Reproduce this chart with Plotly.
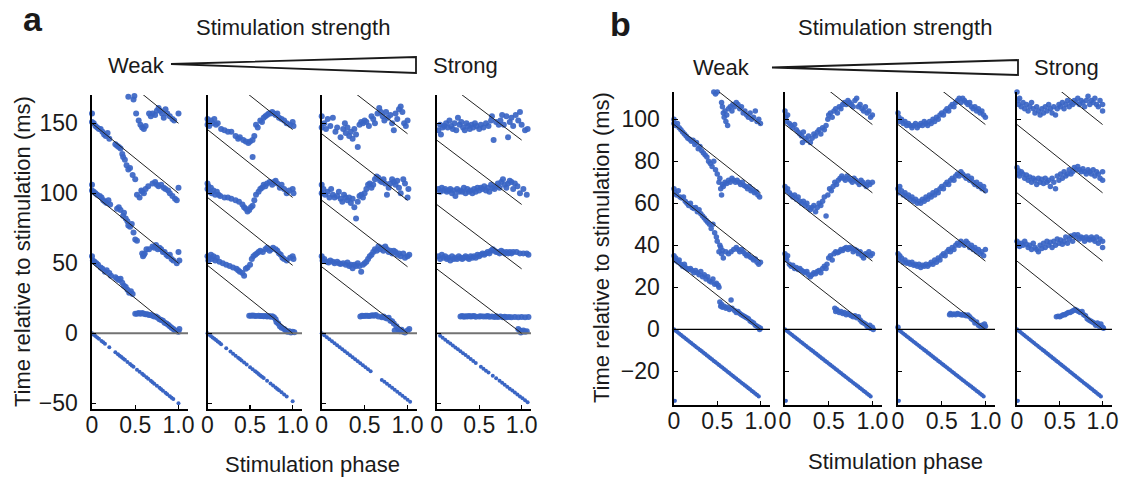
import plotly.graph_objects as go

W, H = 1127, 479
FONT = "Liberation Sans, Arial, Helvetica, sans-serif"
BLUE = "rgb(58,101,196)"

# ---------------- data ----------------
PANEL_A_PERIODS = [50, 48.5, 47.5, 46]
PANEL_B_PERIODS = [32.5, 32.5, 32.5, 32.5]
Y_TICKS_A = [-50, 0, 50, 100, 150]
Y_TICKS_B = [-20, 0, 20, 40, 60, 80, 100]
X_TICKS = [0, 0.5, 1.0]
X_TICK_LABELS = ["0", "0.5", "1.0"]

A1_PTS = [
    (0.00,55),(0.01,52),(0.03,51),(0.05,50),(0.07,49),(0.10,47),(0.12,46),(0.15,44),(0.17,45),(0.20,43),(0.22,41),
    (0.27,40),(0.29,39),(0.31,38),(0.33,39),(0.35,36),(0.37,34),(0.39,33),(0.41,31),(0.43,29),(0.45,30),(0.47,28),
    (0.50,14),(0.52,14),(0.54,14.5),(0.56,14),(0.58,14.5),(0.60,14),(0.62,13.5),(0.64,13.5),(0.66,13),(0.68,13),
    (0.70,12.5),(0.72,12),(0.74,12),(0.76,11),(0.78,10),(0.80,9.5),(0.82,9),(0.84,7.5),(0.86,7),(0.88,6),(0.90,5),
    (0.92,4),(0.94,3),(0.96,2),(0.98,1.5),(1.00,1),(1.01,3),
    (0.00,106),(0.00,102),(0.02,101),(0.04,100),(0.06,99),(0.09,98),(0.11,97),(0.13,95),(0.15,94),(0.17,93),(0.19,95),
    (0.21,92),(0.29,89),(0.31,90),(0.33,88),(0.36,84),(0.37,86),(0.39,82),(0.41,80),(0.42,77),(0.44,76),(0.46,78),
    (0.48,72),(0.50,67),(0.52,66),(0.58,57),(0.59,55),(0.60,56),(0.61,57),(0.63,60),(0.66,60),(0.70,62),(0.72,61),
    (0.74,63),(0.76,60),(0.78,61),(0.80,60),(0.82,58),(0.84,58),(0.86,56),(0.88,55),(0.90,56),(0.92,53),(0.94,52),
    (0.98,50),(1.00,58),(1.01,52),
    (0.00,157),(0.00,151),(0.02,150),(0.04,148),(0.06,147),(0.08,146),(0.10,146),(0.12,144),(0.14,142),(0.16,141),
    (0.18,143),(0.20,139),(0.27,135),(0.29,134),(0.31,133),(0.33,132),(0.35,128),(0.36,126),(0.38,124),(0.40,120),
    (0.42,117),(0.44,118),(0.47,113),(0.50,110),(0.52,99),(0.55,97),(0.57,102),(0.58,101),(0.60,100),(0.62,103),
    (0.65,105),(0.70,107),(0.73,108),(0.75,106),(0.77,105),(0.80,106),(0.83,104),(0.85,103),(0.88,102),(0.90,100),
    (0.93,98),(0.96,96),(0.98,95),(1.00,104),
    (0.42,169),(0.48,167),(0.49,169.5),(0.51,157),(0.54,152),(0.56,149),(0.58,147),(0.60,146),(0.62,148),(0.66,157),
    (0.68,155),(0.70,157),(0.73,156),(0.75,159),(0.77,161),(0.79,159),(0.81,157),(0.83,154),(0.85,160),(0.87,157),
    (0.90,155),(0.93,153),(0.95,152),(1.00,157),
]
A2_PTS = [
    (0.49,12.5),(0.51,12.5),(0.53,12.7),(0.55,12.5),(0.57,12.4),(0.60,12.6),(0.62,12.3),(0.64,12.4),(0.66,12.2),
    (0.68,12.3),(0.70,12.0),(0.72,12.4),(0.74,11.8),(0.76,12.2),(0.78,11.5),(0.80,10),(0.81,8),(0.83,7),(0.85,5),
    (0.87,4),(0.90,3),(0.92,2),(0.94,1),(0.96,1.5),(0.98,0.5),(1.00,1),(1.02,0.7),
    (0.00,55),(0.01,52),(0.02,54),(0.04,56),(0.05,53),(0.07,55),(0.09,52),(0.11,54),(0.14,51),(0.18,50),(0.22,49),
    (0.26,48),(0.30,47),(0.34,46),(0.36,45),(0.38,44),(0.41,43),(0.43,41),(0.45,46),(0.47,47),(0.50,49),(0.52,53),
    (0.54,55),(0.56,56),(0.58,57),(0.60,58),(0.62,59),(0.65,58),(0.68,60),(0.70,61),(0.73,59),(0.75,60),(0.77,61),
    (0.80,60),(0.82,59),(0.84,57),(0.86,56),(0.88,54),(0.90,53),(0.93,52),(0.97,54),(1.00,55),(1.01,53),
    (0.00,107),(0.00,103),(0.01,105),(0.02,101),(0.04,104),(0.05,100),(0.07,102),(0.09,99),(0.11,101),(0.13,99),
    (0.15,98),(0.20,97),(0.24,97),(0.28,96),(0.33,95),(0.37,94),(0.41,92),(0.43,90),(0.45,89),(0.47,87),(0.49,88),
    (0.51,90),(0.53,91),(0.55,95),(0.57,99),(0.60,101),(0.62,103),(0.64,104),(0.66,106),(0.68,105),(0.70,107),
    (0.73,108),(0.76,106),(0.78,108),(0.80,109),(0.82,107),(0.85,104),(0.87,106),(0.90,103),(0.93,100),(0.96,102),
    (1.00,103),(1.01,100),(0.53,126),
    (0.00,153),(0.00,149),(0.01,151),(0.02,148),(0.04,152),(0.06,150),(0.08,153),(0.10,149),(0.12,150),(0.16,146),
    (0.20,145),(0.24,144),(0.28,144),(0.33,141),(0.36,139),(0.38,140),(0.42,138),(0.45,137),(0.48,136),(0.50,137),
    (0.53,138),(0.55,141),(0.57,149),(0.59,147),(0.62,152),(0.64,151),(0.66,154),(0.68,155),(0.70,156),(0.72,157),
    (0.74,157),(0.76,158),(0.78,157),(0.80,156),(0.82,157),(0.84,154),(0.87,153),(0.90,152),(0.93,150),(0.97,149),
    (1.00,151),(1.01,148),
]
A3_PTS = [
    (0.45,12),(0.47,12.5),(0.49,12.3),(0.51,12.5),(0.53,12.6),(0.55,12.4),(0.57,12.5),(0.59,12.8),(0.61,12.6),
    (0.63,13),(0.66,12),(0.70,11.5),(0.72,12),(0.74,11),(0.76,10.5),(0.78,11),(0.80,9),(0.82,8.5),(0.84,7),
    (0.85,2),(0.87,5),(0.89,3),(0.91,1.5),(0.93,2.5),(0.95,1),(0.97,0.5),(1.00,2),(1.02,3),
    (0.00,55),(0.01,52),(0.03,53),(0.06,51),(0.08,50.5),(0.10,52),(0.13,51),(0.15,50),(0.18,51),(0.20,50),(0.22,49.5),
    (0.25,50),(0.28,49),(0.30,50.5),(0.32,48),(0.34,49),(0.36,46.5),(0.38,49),(0.40,48),(0.42,50),(0.44,48),(0.46,44),
    (0.48,49),(0.50,50),(0.52,51),(0.54,53),(0.56,55),(0.58,56),(0.60,58),(0.62,60),(0.64,59),(0.66,62),(0.68,60),
    (0.70,61),(0.72,59),(0.74,62),(0.76,60),(0.78,58),(0.80,59),(0.82,57),(0.84,59),(0.86,58),(0.88,56),(0.90,57),
    (0.92,55),(0.95,57),(0.97,54),(1.00,55),(1.02,56),
    (0.00,106),(0.00,100),(0.02,103),(0.04,99),(0.07,101),(0.09,97),(0.11,103),(0.13,99),(0.15,97),(0.18,98),(0.20,101),
    (0.22,96),(0.24,94),(0.26,99),(0.28,97),(0.30,95),(0.32,97),(0.34,93),(0.36,96),(0.38,90),(0.40,82),(0.42,94),
    (0.44,98),(0.46,99),(0.48,97),(0.50,100),(0.52,103),(0.54,106),(0.56,107),(0.58,104),(0.60,106),(0.62,110),
    (0.64,112),(0.66,111),(0.68,109),(0.70,108),(0.72,110),(0.74,107),(0.76,99),(0.78,104),(0.80,107),(0.82,110),
    (0.84,108),(0.86,106),(0.88,109),(0.90,104),(0.92,100),(0.95,110),(0.97,107),(1.00,97),(1.01,103),
    (0.00,155),(0.00,147),(0.03,150),(0.05,146),(0.07,153),(0.10,148),(0.13,154),(0.16,144),(0.18,147),(0.22,140),
    (0.25,146),(0.27,150),(0.28,143),(0.30,147),(0.32,141),(0.34,144),(0.36,139),(0.38,146),(0.40,142),(0.42,133),
    (0.44,149),(0.46,151),(0.48,150),(0.50,152),(0.52,151),(0.55,148),(0.58,155),(0.60,153),(0.62,150),(0.65,157),
    (0.67,161),(0.69,158),(0.71,155),(0.73,152),(0.75,158),(0.77,154),(0.80,156),(0.82,150),(0.84,145),(0.86,157),
    (0.88,153),(0.90,160),(0.92,162),(0.94,158),(0.96,150),(0.98,148),(1.00,152),
]
A4_PTS = [
    (0.28,12),(0.30,12.3),(0.32,11.8),(0.34,12.2),(0.36,12),(0.38,12.4),(0.40,11.9),(0.42,12.1),(0.44,12.3),(0.46,11.8),
    (0.50,12),(0.52,12.2),(0.55,11.9),(0.58,12),(0.60,12.3),(0.62,11.8),(0.65,12),(0.68,11.7),(0.70,12.1),(0.72,11.6),
    (0.75,11.9),(0.78,11.5),(0.80,11.8),(0.82,11.4),(0.85,11.7),(0.88,11.5),(0.92,11.6),(0.96,11.4),(1.00,11.6),
    (1.04,11.5),(1.08,11.7),(0.96,3),(0.98,2),(1.00,1),(1.02,2),(1.04,1),(0.99,0.5),(1.06,1.5),
    (0.02,55),(0.04,53),(0.06,56),(0.08,54),(0.10,55),(0.12,53),(0.14,54),(0.16,52),(0.18,55),(0.20,53),(0.22,54),
    (0.24,53),(0.26,55),(0.28,54),(0.30,53),(0.32,54),(0.34,55),(0.36,54),(0.38,53),(0.40,55),(0.42,54),(0.44,55),
    (0.46,54),(0.48,56),(0.50,55),(0.52,56),(0.54,57),(0.56,56),(0.58,57),(0.60,58),(0.62,57),(0.64,59),(0.66,60),
    (0.68,59),(0.70,58),(0.72,58),(0.74,57),(0.76,59),(0.78,58),(0.80,57),(0.82,58),(0.84,57),(0.86,58),(0.88,57),
    (0.90,58),(0.94,58),(0.98,57),(1.02,57),(1.06,57),(1.08,56),
    (0.02,103),(0.04,101),(0.06,104),(0.08,102),(0.10,103),(0.12,101),(0.14,102),(0.16,103),(0.18,100),(0.20,102),
    (0.22,98),(0.24,103),(0.26,101),(0.28,102),(0.30,101),(0.32,104),(0.34,100),(0.36,103),(0.38,101),(0.40,102),
    (0.42,100),(0.44,103),(0.46,101),(0.48,104),(0.50,102),(0.52,104),(0.54,103),(0.56,105),(0.58,102),(0.60,104),
    (0.62,101),(0.64,106),(0.66,104),(0.68,103),(0.70,105),(0.72,107),(0.74,104),(0.76,108),(0.78,110),(0.80,106),
    (0.82,104),(0.84,107),(0.86,109),(0.88,108),(0.90,103),(0.92,107),(0.95,105),(0.98,100),(1.02,103),(1.06,99),
    (0.02,145),(0.04,149),(0.05,142),(0.07,147),(0.09,148),(0.11,150),(0.13,147),(0.15,152),(0.17,148),(0.19,146),
    (0.21,150),(0.23,145),(0.25,154),(0.27,149),(0.29,151),(0.31,147),(0.33,145),(0.35,150),(0.37,148),(0.39,146),
    (0.41,149),(0.43,147),(0.45,150),(0.47,148),(0.50,146),(0.52,149),(0.55,147),(0.58,150),(0.61,148),(0.64,152),
    (0.65,155),(0.67,138),(0.70,151),(0.73,149),(0.75,152),(0.77,156),(0.79,149),(0.82,155),(0.84,140),(0.86,151),
    (0.88,154),(0.90,148),(0.93,156),(0.96,152),(0.98,158),(1.00,149),(1.04,145),(1.07,146),
]
A1_STIM = [(0.00,0),(0.02,-1),(0.04,-2),(0.06,-3),(0.08,-4),(0.11,-5.5),(0.13,-6.5),(0.15,-7.5),(0.20,-10),(0.27,-13.5),
           (0.30,-15),(0.32,-16),(0.34,-17),(0.36,-18),(0.38,-19),(0.41,-20.5),(0.44,-22),(0.46,-23),(0.48,-24),(0.52,-26),
           (0.55,-27.5),(0.58,-29),(0.60,-30),(0.63,-31.5),(0.65,-32.5),(0.68,-34),(0.70,-35),(0.72,-36),(0.75,-37.5),
           (0.78,-39),(0.80,-40),(0.82,-41),(0.85,-42.5),(0.87,-43.5),(0.90,-45),(0.92,-46),(0.94,-47),(1.00,-50)]
A2_STIM = [(0.00,0),(0.02,-1),(0.04,-2),(0.06,-3),(0.08,-4),(0.10,-4.9),(0.12,-5.8),(0.14,-6.8),(0.16,-7.8),(0.22,-10.7),
           (0.27,-13.1),(0.30,-14.6),(0.33,-16),(0.36,-17.5),(0.38,-18.4),(0.40,-19.4),(0.43,-20.9),(0.46,-22.3),
           (0.50,-24.3),(0.53,-25.7),(0.56,-27.2),(0.58,-28.1),(0.60,-29.1),(0.62,-30.1),(0.64,-31),(0.66,-32),
           (0.70,-34),(0.74,-35.9),(0.77,-37.3),(0.80,-38.8),(0.82,-39.8),(0.84,-40.7),(0.87,-42.2),(0.90,-43.7),
           (0.93,-45.1),(1.00,-48.5)]
A3_STIM = [(0.00,0),(0.03,-1.4),(0.06,-2.9),(0.09,-4.3),(0.12,-5.7),(0.15,-7.1),(0.18,-8.6),(0.21,-10),(0.24,-11.4),
           (0.27,-12.8),(0.30,-14.3),(0.33,-15.7),(0.36,-17.1),(0.39,-18.5),(0.42,-20),(0.45,-21.4),(0.48,-22.8),
           (0.51,-24.2),(0.54,-25.7),(0.57,-27.1),(0.70,-33.3),(0.73,-34.7),(0.76,-36.1),(0.79,-37.5),(0.82,-39),
           (0.85,-40.4),(0.88,-41.8),(0.91,-43.2),(0.94,-44.7),(0.97,-46.1),(1.00,-47.5),(1.03,-48.9)]
A4_STIM = [(0.04,-1.8),(0.07,-3.2),(0.10,-4.6),(0.13,-6),(0.16,-7.4),(0.19,-8.7),(0.22,-10.1),(0.25,-11.5),(0.28,-12.9),
           (0.31,-14.3),(0.34,-15.6),(0.37,-17),(0.40,-18.4),(0.43,-19.8),(0.46,-21.2),(0.52,-23.9),(0.55,-25.3),
           (0.58,-26.7),(0.61,-28.1),(0.66,-30.4),(0.70,-32.2),(0.74,-34),(0.77,-35.4),(0.80,-36.8),(0.83,-38.2),
           (0.86,-39.6),(0.89,-40.9),(0.92,-42.3),(0.95,-43.7),(0.98,-45.1),(1.01,-46.5),(1.04,-47.8),(1.07,-49.2)]

B1_PTS = [
    (0.00,35),(0.01,33),(0.02,34),(0.03,32.5),(0.05,32),(0.06,33),(0.08,31),(0.10,30),(0.12,31),(0.13,29.5),(0.15,29),
    (0.17,28.5),(0.19,29),(0.21,28),(0.23,27),(0.25,28),(0.27,27),(0.29,26),(0.31,27.5),(0.33,25),(0.35,26),(0.37,24),
    (0.39,25),(0.41,23),(0.43,22.5),(0.45,24),(0.47,21.5),(0.49,22),(0.51,21),(0.52,20),(0.53,13),(0.54,11),(0.55,12),
    (0.56,10.5),(0.58,11),(0.60,10),(0.62,10.5),(0.64,9.5),(0.66,14),(0.67,10),(0.70,9),(0.72,8),(0.74,8.5),(0.76,7.5),
    (0.78,7),(0.80,6.5),(0.82,6),(0.84,5.5),(0.86,5),(0.88,4),(0.90,3.5),(0.92,3),(0.94,2),(0.96,1.5),(0.98,1),
    (1.00,0.5),(0.99,0),
    (0.00,67),(0.01,65),(0.03,64),(0.05,66),(0.07,63),(0.09,62.5),(0.11,63),(0.13,61),(0.15,60),(0.17,59),(0.19,60),
    (0.21,58),(0.23,57.5),(0.25,58),(0.27,56),(0.29,57),(0.31,55),(0.33,54),(0.35,53),(0.37,52),(0.39,51),(0.41,50),
    (0.43,48),(0.45,50),(0.47,46),(0.49,44),(0.50,42),(0.52,37),(0.53,40),(0.54,39),(0.55,36),(0.56,37.5),(0.57,34),
    (0.60,37),(0.63,36),(0.66,37),(0.69,38),(0.72,39),(0.74,38),(0.76,37),(0.78,38),(0.80,37),(0.82,36),(0.84,35),
    (0.86,35.5),(0.88,34.5),(0.90,34),(0.92,33),(0.94,33.5),(0.96,32),(0.98,31),(1.00,32),
    (0.00,100),(0.00,98),(0.02,97),(0.04,98),(0.06,96),(0.08,95),(0.10,94),(0.12,93),(0.14,92),(0.16,91),(0.18,90.5),
    (0.20,89.5),(0.22,90),(0.24,88),(0.26,89),(0.28,86),(0.30,87),(0.32,85),(0.34,84),(0.36,83),(0.38,82),(0.40,80),
    (0.42,79),(0.44,77.5),(0.46,80),(0.48,76),(0.50,74),(0.52,70),(0.53,72),(0.54,67),(0.55,64),(0.56,69),(0.57,68),
    (0.59,70),(0.61,69.5),(0.63,71),(0.65,70),(0.67,72),(0.69,71),(0.71,70),(0.73,71),(0.75,70),(0.77,69),(0.79,70),
    (0.81,68.5),(0.83,68),(0.85,67),(0.87,68),(0.89,66),(0.91,66.5),(0.93,65),(0.95,65.5),(0.97,64),(0.99,63),
    (0.46,113),(0.48,112),(0.50,113),(0.55,108),(0.56,106),(0.57,103),(0.58,101),(0.59,104),(0.60,99),(0.61,102),
    (0.62,97),(0.63,105),(0.65,106),(0.67,104),(0.68,107),(0.70,106),(0.72,108),(0.74,107),(0.76,105),(0.78,106),
    (0.80,103),(0.82,104),(0.84,102),(0.86,101),(0.88,103),(0.90,100),(0.92,101),(0.94,104),(0.96,99),(0.98,100),
    (1.00,98),
]
B2_PTS = [
    (0.57,10),(0.58,8.5),(0.59,9.5),(0.60,9),(0.62,8),(0.64,8.5),(0.66,7.5),(0.68,8),(0.70,7),(0.72,7.5),(0.74,7),
    (0.76,6.5),(0.78,6),(0.80,6.5),(0.82,5.5),(0.84,6),(0.86,4.5),(0.88,3.5),(0.90,3),(0.92,2.5),(0.94,1.5),(0.96,1),
    (0.98,0.5),(1.00,1),(1.01,0),(0.97,2),
    (0.00,36),(0.01,34),(0.02,33),(0.03,35),(0.05,31),(0.07,30),(0.09,30.5),(0.11,29),(0.13,29.5),(0.15,28.5),(0.17,29),
    (0.19,28),(0.21,27.5),(0.23,27),(0.25,27.5),(0.27,26),(0.29,25),(0.31,26),(0.33,27),(0.35,26.5),(0.37,27.5),
    (0.39,28),(0.41,27),(0.43,29),(0.45,30),(0.47,29),(0.48,31),(0.50,34),(0.52,35),(0.54,33),(0.56,36),(0.58,37),
    (0.60,36.5),(0.62,37),(0.64,38),(0.66,37.5),(0.68,38.5),(0.70,39),(0.72,38),(0.74,39),(0.76,38.5),(0.78,37),
    (0.80,38),(0.82,37.5),(0.84,36),(0.86,37),(0.88,35),(0.90,34),(0.92,36),(0.94,35.5),(0.96,37),(0.98,35),(1.00,36),
    (0.00,68),(0.01,66),(0.03,67),(0.05,65),(0.07,64),(0.09,63),(0.11,64),(0.13,62),(0.15,63),(0.17,61),(0.19,60),
    (0.21,61),(0.23,59),(0.25,60),(0.27,58),(0.29,57),(0.31,58),(0.33,59),(0.35,56),(0.37,58),(0.39,60),(0.41,59),
    (0.43,61),(0.45,63),(0.47,54),(0.49,64),(0.51,67),(0.53,66),(0.55,68),(0.57,70),(0.59,69),(0.61,71),(0.63,72),
    (0.65,73),(0.67,72),(0.69,71),(0.71,73),(0.73,72),(0.75,71),(0.77,70),(0.79,72),(0.81,71),(0.83,70),(0.85,69),
    (0.87,71),(0.89,70),(0.91,69),(0.93,68),(0.95,70),(0.97,69),(1.00,70),
    (0.00,104),(0.01,101),(0.02,99),(0.03,102),(0.05,98),(0.07,97),(0.09,96),(0.11,97.5),(0.13,95),(0.15,94),(0.17,93),
    (0.19,92),(0.20,89),(0.21,94),(0.23,91),(0.25,90),(0.27,92),(0.29,89),(0.31,91),(0.33,93),(0.35,92),(0.37,94),
    (0.39,95),(0.41,93),(0.43,96),(0.45,95),(0.47,97),(0.49,100),(0.50,102),(0.52,103),(0.54,101),(0.56,104),
    (0.58,105),(0.60,103),(0.62,106),(0.64,105),(0.66,107),(0.68,108),(0.70,107),(0.72,109),(0.74,108),(0.76,107),
    (0.78,106),(0.80,109),(0.82,110),(0.84,106),(0.86,107),(0.88,105),(0.90,104),(0.92,106),(0.94,103),(0.96,104),
    (0.98,101),(1.00,102),
]
B3_PTS = [
    (0.59,7),(0.60,7.5),(0.62,7),(0.64,7.3),(0.66,7),(0.68,7.5),(0.70,7.2),(0.72,7),(0.74,6.8),(0.76,7),(0.78,6.5),
    (0.80,6.8),(0.82,6),(0.84,5),(0.86,4.5),(0.88,3),(0.90,3.5),(0.92,2),(0.94,1.5),(0.96,2),(0.98,1),(1.00,1.5),
    (0.99,2.5),(0.00,1),
    (0.00,36),(0.01,33),(0.02,35),(0.04,34),(0.06,32),(0.08,33),(0.10,31.5),(0.12,32),(0.14,31),(0.16,32),(0.18,30.5),
    (0.20,31),(0.22,30),(0.24,31),(0.26,29.5),(0.28,30.5),(0.30,30),(0.32,31),(0.34,30),(0.36,31),(0.38,32),(0.40,31),
    (0.42,33),(0.44,32),(0.46,34),(0.48,33),(0.50,35),(0.52,36),(0.54,35),(0.56,37),(0.58,38),(0.60,37),(0.62,39),
    (0.64,38),(0.66,40),(0.68,41),(0.70,40),(0.72,42),(0.74,41),(0.76,40),(0.78,42),(0.80,41),(0.82,39),(0.84,40),
    (0.86,38),(0.88,39),(0.90,37),(0.92,38),(0.94,36),(0.96,37),(0.98,35),(1.00,38),
    (0.00,67),(0.01,65),(0.02,68),(0.04,66),(0.06,64),(0.08,65),(0.10,63),(0.12,64),(0.14,62),(0.16,63),(0.18,61),
    (0.20,62),(0.22,60),(0.24,61),(0.26,60),(0.28,62),(0.30,61),(0.32,63),(0.34,62),(0.36,64),(0.38,63),(0.40,65),
    (0.42,64),(0.44,66),(0.46,65),(0.48,67),(0.50,68),(0.52,67),(0.54,69),(0.56,70),(0.58,69),(0.60,71),(0.62,72),
    (0.64,71),(0.66,73),(0.68,74),(0.70,73),(0.72,75),(0.74,74),(0.76,73),(0.78,72),(0.80,73),(0.82,71),(0.84,72),
    (0.86,70),(0.88,69),(0.90,70),(0.92,68),(0.94,69),(0.96,67),(0.98,68),(1.00,66),
    (0.00,103),(0.01,101),(0.02,99),(0.04,100),(0.06,98),(0.08,99),(0.10,97),(0.12,98),(0.14,97),(0.16,96),(0.18,97),
    (0.20,98),(0.22,96),(0.24,97),(0.26,98),(0.28,97),(0.30,99),(0.32,98),(0.34,97),(0.36,99),(0.38,98),(0.40,100),
    (0.42,99),(0.44,101),(0.46,100),(0.48,102),(0.50,103),(0.52,102),(0.54,104),(0.56,105),(0.58,104),(0.60,106),
    (0.62,107),(0.64,106),(0.66,108),(0.68,109),(0.70,110),(0.72,108),(0.74,110),(0.76,109),(0.78,108),(0.80,107),
    (0.82,108),(0.84,106),(0.86,105),(0.88,106),(0.90,104),(0.92,105),(0.94,103),(0.96,104),(0.98,102),(1.00,101),
]
B4_PTS = [
    (0.46,6),(0.48,6.3),(0.50,6),(0.52,6.5),(0.54,7),(0.56,7),(0.58,7.5),(0.60,8),(0.62,8),(0.64,8.5),(0.66,9),
    (0.68,9.5),(0.70,9),(0.72,8.5),(0.74,8),(0.76,8.5),(0.78,7),(0.80,6.5),(0.82,5),(0.84,4.5),(0.86,4),(0.88,3.5),
    (0.90,3),(0.92,2),(0.94,3),(0.96,1.5),(0.98,2.5),(1.00,1),(1.01,0.5),
    (0.00,42),(0.01,40),(0.02,41),(0.03,39.5),(0.05,41),(0.07,40),(0.09,42),(0.11,40.5),(0.13,39),(0.15,40),(0.17,38),
    (0.19,41),(0.21,39),(0.23,38),(0.25,37),(0.27,40),(0.29,38.5),(0.31,41),(0.33,39),(0.35,42),(0.37,40),(0.39,41.5),
    (0.41,39),(0.43,42),(0.45,40),(0.47,43),(0.49,41),(0.51,42.5),(0.53,40.5),(0.55,42),(0.57,44),(0.59,41),(0.61,43),
    (0.63,44.5),(0.65,42),(0.67,45),(0.69,44),(0.71,45),(0.73,43),(0.75,44),(0.77,43.5),(0.79,42),(0.81,44),(0.83,43),
    (0.85,42.5),(0.87,44),(0.89,43),(0.91,42),(0.93,44),(0.95,41),(0.97,43),(1.00,42),(1.00,39),
    (0.00,77),(0.01,74),(0.02,75.5),(0.03,73),(0.05,75),(0.07,74),(0.09,72),(0.11,73.5),(0.13,71),(0.15,72.5),(0.17,70),
    (0.19,72),(0.21,71),(0.23,69),(0.25,72),(0.27,70),(0.29,71.5),(0.31,69.5),(0.33,72),(0.35,70),(0.37,71),(0.39,68),
    (0.41,72),(0.43,70),(0.45,67),(0.47,73),(0.49,71),(0.51,74),(0.53,72),(0.55,75),(0.57,73),(0.59,74),(0.61,76),
    (0.63,74),(0.65,75),(0.67,77),(0.69,76),(0.71,77.5),(0.73,76),(0.75,75),(0.77,76.5),(0.79,75),(0.81,74),(0.83,76),
    (0.85,75),(0.87,74),(0.89,76),(0.91,73),(0.93,75),(0.95,74),(0.97,72),(1.00,75),(1.00,71),
    (0.00,113),(0.01,109),(0.02,107),(0.03,110),(0.05,106),(0.07,108),(0.09,105),(0.11,107),(0.13,104),(0.15,106),
    (0.17,108),(0.19,105),(0.21,103),(0.23,106),(0.25,104),(0.27,102),(0.29,105),(0.31,103),(0.33,106),(0.35,104),
    (0.37,107),(0.39,105),(0.41,103),(0.43,106),(0.45,102),(0.47,105),(0.49,107),(0.51,106),(0.53,108),(0.55,105),
    (0.57,107),(0.59,109),(0.61,106),(0.63,108),(0.65,107),(0.67,109),(0.69,108),(0.71,110),(0.73,107),(0.75,109),
    (0.77,108),(0.79,106),(0.81,109),(0.83,111),(0.85,107),(0.87,109),(0.89,108),(0.91,110),(0.93,107),(0.95,106),
    (0.97,109),(1.00,107),(1.00,104),
]
B_STIM = [(0.00,0),(0.02,-0.7),(0.04,-1.3),(0.06,-2),(0.08,-2.6),(0.10,-3.3),(0.12,-3.9),(0.14,-4.6),(0.16,-5.2),
          (0.18,-5.9),(0.20,-6.5),(0.22,-7.2),(0.24,-7.8),(0.26,-8.5),(0.28,-9.1),(0.30,-9.8),(0.32,-10.4),(0.34,-11.1),
          (0.36,-11.7),(0.38,-12.4),(0.40,-13),(0.42,-13.7),(0.44,-14.3),(0.46,-15),(0.48,-15.6),(0.50,-16.3),
          (0.52,-16.9),(0.54,-17.6),(0.56,-18.2),(0.58,-18.9),(0.60,-19.5),(0.62,-20.2),(0.64,-20.8),(0.66,-21.5),
          (0.68,-22.1),(0.70,-22.8),(0.72,-23.4),(0.74,-24.1),(0.76,-24.7),(0.78,-25.4),(0.80,-26),(0.82,-26.7),
          (0.84,-27.3),(0.86,-28),(0.88,-28.6),(0.90,-29.3),(0.92,-29.9),(0.94,-30.6),(0.96,-31.2),(0.98,-31.9),
          (0.01,-34)]

# ---------------- layout geometry ----------------
def px_x(v): return v / W
def px_y(v): return 1 - v / H

A_XDOM = [(92, 188), (207.5, 302), (321.7, 417), (436.7, 531)]
B_XDOM = [(674, 770), (785, 882), (898, 995), (1017, 1112)]
A_YDOM = (409, 95)
B_YDOM = (405, 92)
A_YRANGE = [-54.1, 170.2]
B_YRANGE = [-36, 113]
X_RANGE = [0, 1.11]
TICK_FONT = dict(family=FONT, size=23, color="#1a1a1a")

fig = go.Figure()
layout = dict(width=W, height=H, margin=dict(l=0, r=0, t=0, b=0, pad=0, autoexpand=False),
              paper_bgcolor="white", plot_bgcolor="white", showlegend=False,
              font=dict(family=FONT, size=22, color="#1a1a1a"))

panels = [
    ("a", [A1_PTS, A2_PTS, A3_PTS, A4_PTS], [A1_STIM, A2_STIM, A3_STIM, A4_STIM], PANEL_A_PERIODS,
     A_XDOM, A_YDOM, A_YRANGE, Y_TICKS_A, "rgb(115,115,115)", 2.2, 6, 4),
    ("b", [B1_PTS, B2_PTS, B3_PTS, B4_PTS], [B_STIM] * 4, PANEL_B_PERIODS,
     B_XDOM, B_YDOM, B_YRANGE, Y_TICKS_B, "black", 1.2, 5.5, 4.2),
]

idx = 0
for name, pts_list, stim_list, periods, xdoms, ydom, yrange, yticks, zcol, zw, msize, ssize in panels:
    for j in range(4):
        idx += 1
        xa = "x" if idx == 1 else f"x{idx}"
        ya = "y" if idx == 1 else f"y{idx}"
        xkey = "xaxis" if idx == 1 else f"xaxis{idx}"
        ykey = "yaxis" if idx == 1 else f"yaxis{idx}"
        layout[xkey] = dict(domain=[px_x(xdoms[j][0]), px_x(xdoms[j][1])], range=X_RANGE, anchor=ya,
                            tickvals=X_TICKS, ticktext=X_TICK_LABELS, ticks="inside", ticklen=4, tickwidth=1.2,
                            tickcolor="black", showline=True, linecolor="black", linewidth=1.6,
                            showgrid=False, zeroline=False, tickfont=TICK_FONT, automargin=False,
                            ticklabelstandoff=-5)
        layout[ykey] = dict(domain=[px_y(ydom[0]), px_y(ydom[1])], range=yrange, anchor=xa,
                            tickvals=yticks, ticks="inside", ticklen=4, tickwidth=1.2, tickcolor="black",
                            showline=True, linecolor="black", linewidth=1.6, showgrid=False, zeroline=False,
                            showticklabels=(j == 0), ticklabelstandoff=8, automargin=False,
                            tickfont=TICK_FONT)
        P = periods[j]
        sx = [p[0] for p in stim_list[j]]
        sy = [p[1] for p in stim_list[j]]
        fig.add_trace(go.Scatter(x=sx, y=sy, mode="markers", xaxis=xa, yaxis=ya, cliponaxis=False,
                                 marker=dict(size=ssize, color=BLUE, line=dict(width=0)), hoverinfo="skip"))
        px_ = [p[0] for p in pts_list[j]]
        py_ = [p[1] for p in pts_list[j]]
        fig.add_trace(go.Scatter(x=px_, y=py_, mode="markers", xaxis=xa, yaxis=ya, cliponaxis=False,
                                 marker=dict(size=msize, color=BLUE, opacity=0.92, line=dict(width=0)),
                                 hoverinfo="skip"))
        fig.add_trace(go.Scatter(x=[0, X_RANGE[1]], y=[0, 0], mode="lines", xaxis=xa, yaxis=ya,
                                 line=dict(color=zcol, width=zw), hoverinfo="skip"))
        for k in range(1, 5):
            fig.add_trace(go.Scatter(x=[0, 1], y=[P * k, P * (k - 1)], mode="lines", xaxis=xa, yaxis=ya,
                                     line=dict(color="#222222", width=1), hoverinfo="skip"))

annotations = []
def ann(text, x, y, size=22, bold=False, angle=0):
    t = f"<b>{text}</b>" if bold else text
    annotations.append(dict(text=t, x=px_x(x), y=px_y(y), xref="paper", yref="paper", showarrow=False,
                            xanchor="center", yanchor="middle", textangle=angle,
                            font=dict(family=FONT, size=size, color="#1a1a1a")))

ann("a", 33, 19, size=34, bold=True)
ann("b", 620, 24, size=34, bold=True)
ann("Stimulation strength", 293, 28)
ann("Stimulation strength", 895, 28)
ann("Weak", 136, 65)
ann("Strong", 465, 65)
ann("Weak", 721, 67)
ann("Strong", 1066, 67)
ann("Stimulation phase", 312, 464)
ann("Stimulation phase", 895, 461)
ann("Time relative to stimulation (ms)", 22, 252, angle=-90)
ann("Time relative to stimulation (ms)", 602, 248, angle=-90)
layout["annotations"] = annotations

def wedge(ax, x1, ytop, ybot, ay):
    return dict(type="path", xref="paper", yref="paper",
                path=f"M {px_x(ax)},{px_y(ay)} L {px_x(x1)},{px_y(ytop)} L {px_x(x1)},{px_y(ybot)} Z",
                line=dict(color="#1a1a1a", width=1.8), fillcolor="rgba(0,0,0,0)")

layout["shapes"] = [wedge(171, 416, 57, 73, 64), wedge(772, 1018, 60, 75, 67.5)]

fig.update_layout(**layout)
fig.write_html("out.html", config={"displayModeBar": False, "staticPlot": True},
               post_script="document.body.style.margin='0';document.body.style.padding='0';"
                           "document.body.style.overflow='hidden';")
